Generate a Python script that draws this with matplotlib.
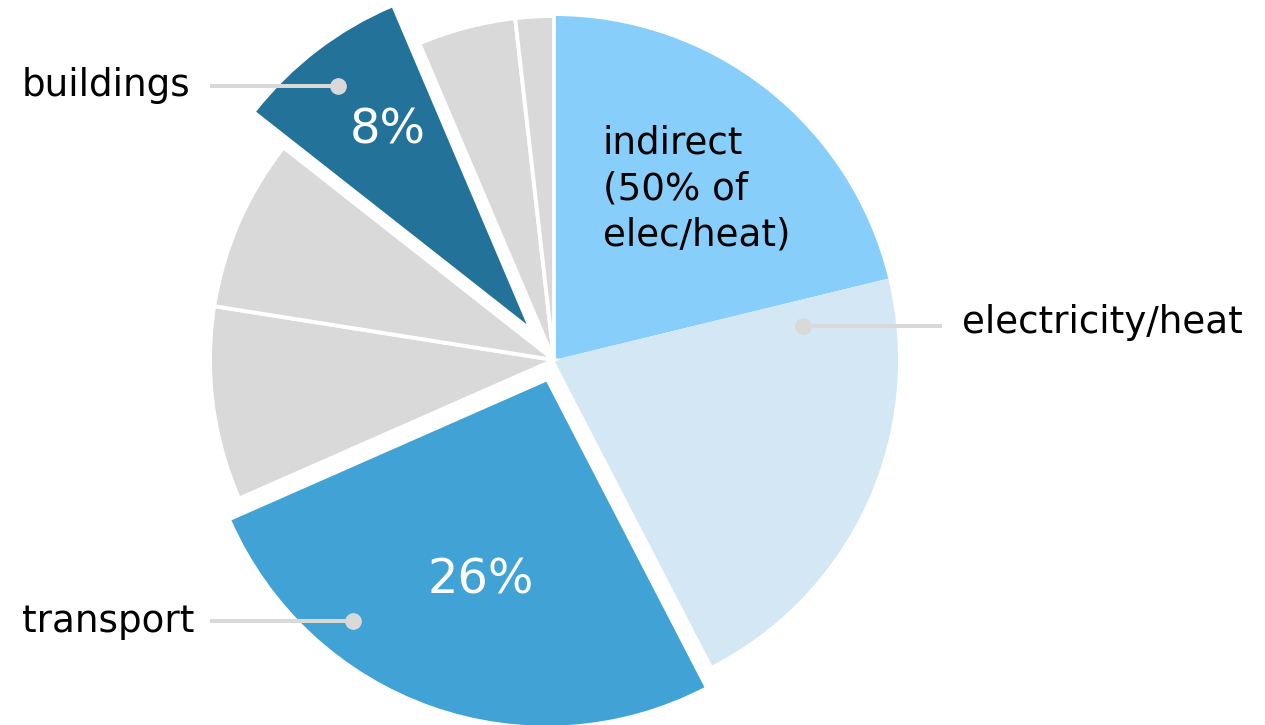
import matplotlib.pyplot as plt

plt.rcParams.update({
    'font.family': 'DejaVu Sans',
})

# shares of emissions, clockwise from 12 o'clock
sectors = ['indirect', 'electricity/heat', 'transport', 'other1', 'other2',
           'buildings', 'other3', 'other4']
shares = [21.2, 21.2, 26.0, 9.1, 8.1, 8.0, 4.6, 1.8]
colors = ['#87CEFA', '#D3E7F5', '#41A3D5', '#D9D9D9', '#D9D9D9',
          '#23729A', '#D9D9D9', '#D9D9D9']
pct_labels = ['transport', 'buildings']

W, H = 1265, 725
R = 344
# pie() takes explode in data units, and the axes run in pixels here
explode = [0, 0, 23, 0, 0, 45, 0, 0]


def py(y):
    # picture rows run top-down, axes run bottom-up
    return H - y


fig = plt.figure(figsize=(W / 100, H / 100), dpi=100)
ax = fig.add_axes([0, 0, 1, 1])

wedges, _ = ax.pie(shares, colors=colors, explode=explode, startangle=90,
                   counterclock=False, center=(554, py(360)), radius=R,
                   wedgeprops={'linewidth': 0})

for w, c in zip(wedges, colors):
    if c == '#D9D9D9':
        w.set_edgecolor('white')
        w.set_linewidth(2.8)

ax.set_xlim(0, W)
ax.set_ylim(0, H)
ax.set_aspect('equal')
ax.axis('off')

# percentage labels inside highlighted slices
pct_pos = {'transport': (481, 580), 'buildings': (388, 130)}
for name in pct_labels:
    val = shares[sectors.index(name)]
    x, y = pct_pos[name]
    ax.text(x, py(y), f'{val:.0f}%', color='white', fontsize=34.5,
            ha='center', va='center')

ax.text(603, py(245), 'indirect\n(50% of\nelec/heat)', fontsize=26.8,
        ha='left', va='baseline', linespacing=1.31)

# leader lines: (label, text x, baseline y, line start x, dot x, line y)
leaders = [
    ('buildings', 22, 96, 210, 338, 86),
    ('transport', 22, 632, 210, 353, 621),
    ('electricity/heat', 962, 333, 942, 803, 326),
]
for text, tx, ty, lx, dx, ly in leaders:
    ax.plot([lx, dx], [py(ly), py(ly)], color='#D9D9D9', linewidth=2.9,
            solid_capstyle='butt', zorder=5)
    ax.plot(dx, py(ly), 'o', color='#D9D9D9', markersize=11, zorder=6)
    ax.text(tx, py(ty), text, fontsize=26.8, ha='left', va='baseline')

plt.savefig('out.png', dpi=100, facecolor='white')
